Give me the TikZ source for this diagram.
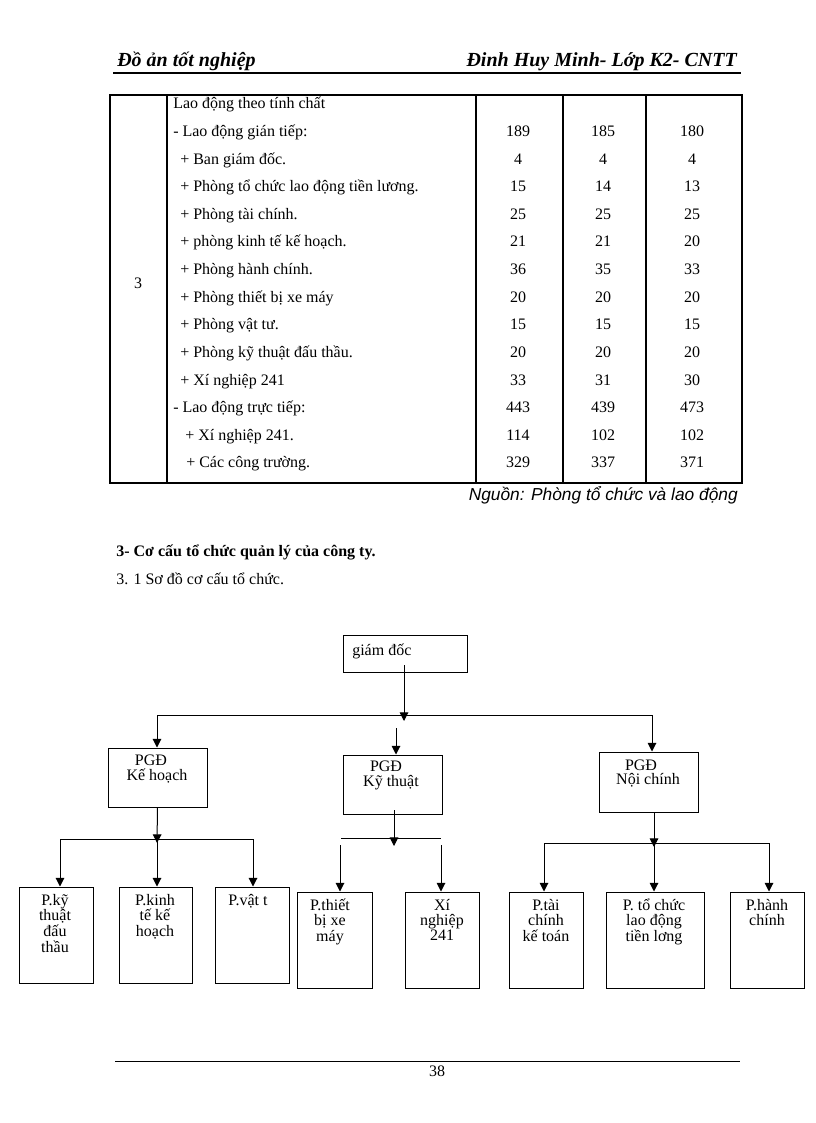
\documentclass[tikz,border=0pt]{standalone}
\usepackage{fontspec}
\setmainfont{Liberation Serif}
\newfontfamily\arialf{Liberation Sans}
\usetikzlibrary{arrows.meta,fit}
\newcommand\mlines[1]{\begin{tabular}[t]{@{}c@{}}#1\end{tabular}}
\newcommand\trow[7]{%
  \node[ttext] (r#1) at (#3,#2) {#4};
  \node[tnum] (r#1a) at (518,#2) {#5};
  \node[tnum] (r#1b) at (603,#2) {#6};
  \node[tnum] (r#1c) at (692,#2) {#7};}
\begin{document}
\begin{tikzpicture}[x=0.75pt,y=-0.75pt,
  ln/.style={line width=0.75pt},
  arr/.style={line width=0.75pt,-{Triangle[width=6.5pt,length=6.5pt]}},
  box/.style={draw,line width=0.75pt,inner sep=0pt},
  tline/.style={line width=0.8pt},
  ttext/.style={anchor=base west,inner sep=0pt,font=\fontsize{12}{14}\selectfont},
  tnum/.style={anchor=base,inner sep=0pt,font=\fontsize{12}{14}\selectfont},
  dtext/.style={anchor=base,inner sep=0pt,font=\fontsize{12}{11}\selectfont},
  hdr/.style={inner sep=0pt,font=\fontsize{15}{17}\selectfont\bfseries\itshape},
]
\useasboundingbox (0,0) rectangle (816,1123);
\fill[white] (0,0) rectangle (816,1123);

% header
\node[hdr,anchor=base west] (hl) at (117,67) {Đồ ản tốt nghiệp};
\node[hdr,anchor=base east] (hr) at (737,67) {Đinh Huy Minh- Lớp K2- CNTT};
\draw[line width=1.5pt] (113,73) -- (741,73);

% table
\draw[tline] (110,95) rectangle (742,483);
\foreach \cx in {167,476,563,646} \draw[tline] (\cx,95) -- (\cx,483);
\node[tnum] (rno) at (138,288) {3};
\node[ttext] (r1) at (173,109) {Lao động theo tính chất};
\trow{2}{136.6}{173}{- Lao động gián tiếp:}{189}{185}{180}
\trow{3}{164.2}{180}{+ Ban giám đốc.}{4}{4}{4}
\trow{4}{191.8}{180}{+ Phòng tổ chức lao động tiền lương.}{15}{14}{13}
\trow{5}{219.4}{180}{+ Phòng tài chính.}{25}{25}{25}
\trow{6}{247}{180}{+ phòng kinh tế kế hoạch.}{21}{21}{20}
\trow{7}{274.6}{180}{+ Phòng hành chính.}{36}{35}{33}
\trow{8}{302.2}{180}{+ Phòng thiết bị xe máy}{20}{20}{20}
\trow{9}{329.8}{180}{+ Phòng vật tư.}{15}{15}{15}
\trow{10}{357.4}{180}{+ Phòng kỹ thuật đấu thầu.}{20}{20}{20}
\trow{11}{385}{180}{+ Xí nghiệp 241}{33}{31}{30}
\trow{12}{412.6}{173}{- Lao động trực tiếp:}{443}{439}{473}
\trow{13}{440.2}{185}{+ Xí nghiệp 241.}{114}{102}{102}
\trow{14}{467.8}{186}{+ Các công trường.}{329}{337}{371}
\node[anchor=base east,inner sep=0pt,font=\arialf\itshape\fontsize{13}{15}\selectfont] (src) at (738,500) {Nguồn: Phòng tổ chức và lao động};

% headings
\node[anchor=base west,inner sep=0pt,font=\fontsize{12}{14}\selectfont\bfseries] (s1) at (116,556) {3- Cơ cấu tổ chức quản lý của công ty.};
\node[anchor=base west,inner sep=0pt,font=\fontsize{12}{14}\selectfont] (s2) at (116,584) {3. 1 Sơ đồ cơ cấu tổ chức.};

% diagram boxes
\node[box,fit={(343,635) (467,672)}] (gd) {};
\node[dtext,anchor=base west] (gdt) at (352,655) {giám đốc};

\node[box,fit={(108,748) (207,807)}] (kh) {};
\node[dtext] (kht1) at (151,765) {PGĐ};
\node[dtext] (kht2) at (157,780) {Kế hoạch};

\node[box,fit={(343,755) (442,814)}] (kt) {};
\node[dtext] (ktt1) at (386,771) {PGĐ};
\node[dtext] (ktt2) at (391,786) {Kỹ thuật};

\node[box,fit={(599,752) (698,812)}] (nc) {};
\node[dtext] (nct1) at (641,770) {PGĐ};
\node[dtext] (nct2) at (648,784) {Nội chính};

\node[box,fit={(19,887) (93,983)}] (b1) {};
\node[dtext] (b1t) at (55,905) {\mlines{P.kỹ\\thuật\\đấu\\thầu}};
\node[box,fit={(119,887) (192,983)}] (b2) {};
\node[dtext] (b2t) at (155,905) {\mlines{P.kinh\\tế kế\\hoạch}};
\node[box,fit={(215,887) (289,983)}] (b3) {};
\node[dtext] (b3t) at (248,905) {P.vật t};
\node[box,fit={(297,892) (372,988)}] (b4) {};
\node[dtext] (b4t) at (330,910) {\mlines{P.thiết\\bị xe\\máy}};
\node[box,fit={(405,892) (479,988)}] (b5) {};
\node[dtext] (b5t) at (442,910) {\mlines{Xí\\nghiệp\\241}};
\node[box,fit={(509,892) (583,988)}] (b6) {};
\node[dtext] (b6t) at (546,910) {\mlines{P.tài\\chính\\kế toán}};
\node[box,fit={(606,892) (704,988)}] (b7) {};
\node[dtext] (b7t) at (654,910) {\mlines{P. tổ chức\\lao động\\tiền lơng}};
\node[box,fit={(730,892) (804,988)}] (b8) {};
\node[dtext] (b8t) at (767,910) {\mlines{P.hành\\chính}};

% connectors level 1
\coordinate (gdS) at (404,665);
\coordinate (gdT) at (404,721);
\coordinate (h1L) at (157,715);
\coordinate (h1R) at (652,715);
\coordinate (ktIn) at (396,728);
\draw[arr] (gdS) -- (gdT);
\draw[ln] (h1L) -- (h1R);
\draw[arr] (h1L) -- (h1L |- kh.north);
\draw[arr] (ktIn) -- (ktIn |- kt.north);
\draw[arr] (h1R) -- (h1R |- nc.north);

% Ke hoach branch
\coordinate (khJ) at (157,843);
\coordinate (khL) at (60,839);
\coordinate (khM) at (157,839);
\coordinate (khR) at (253,839);
\draw[arr] (kh.south) -- (khJ);
\draw[ln] (khL) -- (khR);
\draw[arr] (khL) -- (khL |- b1.north);
\draw[arr] (khM) -- (khM |- b2.north);
\draw[arr] (khR) -- (khR |- b3.north);

% Ky thuat branch
\coordinate (ktS) at (394,810);
\coordinate (ktJ) at (394,846);
\coordinate (ktHL) at (341,838);
\coordinate (ktHR) at (441,838);
\coordinate (ktL) at (340,845);
\coordinate (ktR) at (441,845);
\draw[arr] (ktS) -- (ktJ);
\draw[ln] (ktHL) -- (ktHR);
\draw[arr] (ktL) -- (ktL |- b4.north);
\draw[arr] (ktR) -- (ktR |- b5.north);

% Noi chinh branch
\coordinate (ncS) at (654,812);
\coordinate (ncJ) at (654,847);
\coordinate (ncL) at (544,843);
\coordinate (ncM) at (654,843);
\coordinate (ncR) at (769,843);
\draw[arr] (ncS) -- (ncJ);
\draw[ln] (ncL) -- (ncR);
\draw[arr] (ncL) -- (ncL |- b6.north);
\draw[arr] (ncM) -- (ncM |- b7.north);
\draw[arr] (ncR) -- (ncR |- b8.north);

% footer
\draw[line width=0.6pt] (115,1061) -- (740,1061);
\node[anchor=base,inner sep=0pt,font=\fontsize{12}{14}\selectfont] (pg) at (437,1076) {38};
\end{tikzpicture}
\end{document}
